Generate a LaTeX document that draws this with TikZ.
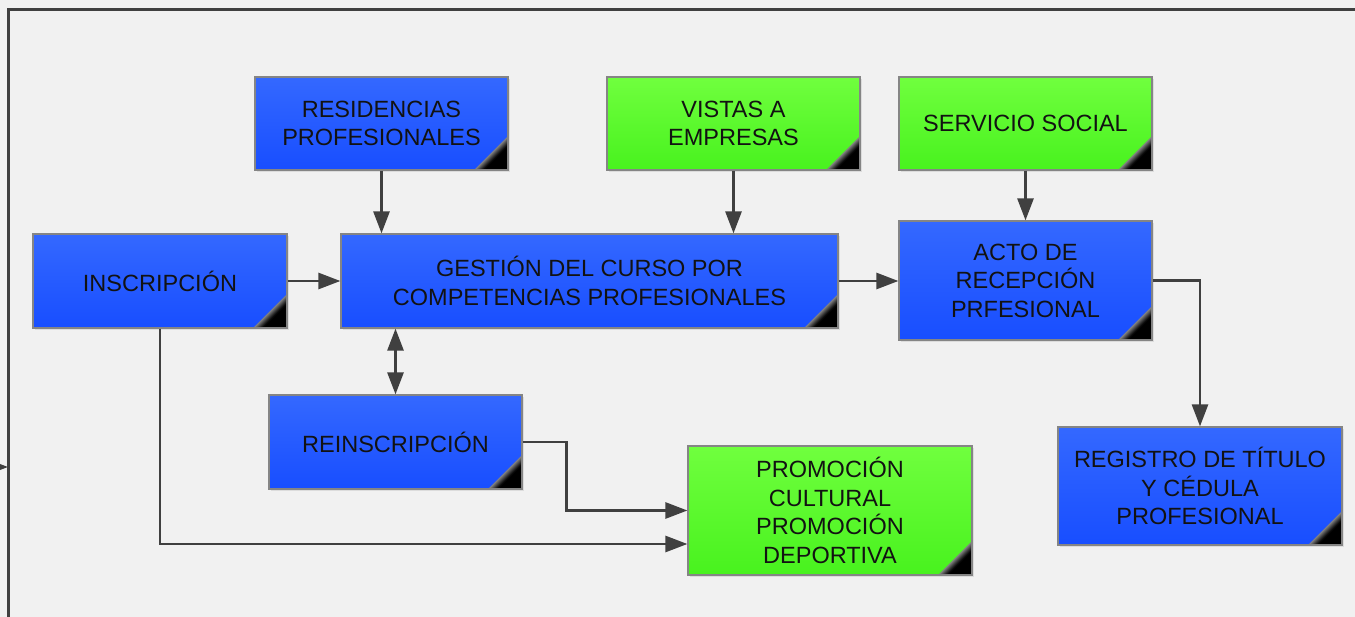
\documentclass[tikz,border=0pt]{standalone}
\usepackage{fontspec}
\setmainfont{Liberation Sans}
\usetikzlibrary{arrows.meta,shadows}
\definecolor{bluetop}{RGB}{52,104,255}
\definecolor{bluebot}{RGB}{24,78,255}
\definecolor{greentop}{RGB}{112,255,62}
\definecolor{greenbot}{RGB}{72,242,30}
\definecolor{linegray}{RGB}{64,64,64}
\definecolor{backgray}{RGB}{241,241,241}

\begin{document}
\begin{tikzpicture}[x=1pt,y=-1pt]
  \tikzstyle{box}=[draw=black!48, line width=1.2pt, align=center, text=black!93,
    font=\fontsize{23.5}{28.5}\selectfont,
    drop shadow={shadow xshift=2pt, shadow yshift=-2pt, opacity=0.18},
    path picture={\foreach \s/\c in {34/50,32/62,30/74,28/86,26/96,24/100}
      \fill[black!\c] (path picture bounding box.south east) -- ++(-\s,0) -- ++(\s,-\s) -- cycle;}]
  \tikzstyle{bluebox}=[box, top color=bluetop, bottom color=bluebot]
  \tikzstyle{greenbox}=[box, top color=greentop, bottom color=greenbot]
  \tikzstyle{flow}=[draw=linegray, line width=2.7pt, -{Triangle[length=22pt,width=16pt]}]
  \useasboundingbox (0,0) rectangle (1355,617);
  \fill[backgray] (0,0) rectangle (1355,617);
  \draw[linegray, line width=2.6pt] (1420,9.5) -- (8.5,9.5) -- (8.5,680);

  \node[bluebox, minimum width=253pt, minimum height=93pt] (res) at (381.5,123.5) {RESIDENCIAS\\PROFESIONALES};
  \node[greenbox, minimum width=253pt, minimum height=93pt] (vis) at (733.5,123.5) {VISTAS A\\EMPRESAS};
  \node[greenbox, minimum width=253pt, minimum height=93pt] (ser) at (1025.5,123.5) {SERVICIO SOCIAL};
  \node[bluebox, minimum width=254pt, minimum height=94pt] (ins) at (160,281) {INSCRIPCIÓN};
  \node[bluebox, minimum width=497pt, minimum height=94pt] (ges) at (589.5,281) {GESTIÓN DEL CURSO POR\\COMPETENCIAS PROFESIONALES};
  \node[bluebox, minimum width=253pt, minimum height=119pt] (act) at (1025.5,280.5) {ACTO DE\\RECEPCIÓN\\PRFESIONAL};
  \node[bluebox, minimum width=253pt, minimum height=94pt] (rei) at (395.5,442) {REINSCRIPCIÓN};
  \node[greenbox, minimum width=284pt, minimum height=129pt] (pro) at (830,510.5) {PROMOCIÓN\\CULTURAL\\PROMOCIÓN\\DEPORTIVA};
  \node[bluebox, minimum width=284pt, minimum height=118pt] (reg) at (1200,486) {REGISTRO DE TÍTULO\\Y CÉDULA\\PROFESIONAL};
  \coordinate (lin) at (-40,467);
  \coordinate (lout) at (8,467);

  \draw[flow] (res.south) -- (res.south |- ges.north);
  \draw[flow] (vis.south) -- (vis.south |- ges.north);
  \draw[flow] (ser.south) -- (act.north);
  \draw[flow] (ins.east) -- (ges.west);
  \draw[flow] (ges.east) -- (act.west |- ges.east);
  \draw[flow, {Triangle[length=22pt,width=16pt]}-{Triangle[length=22pt,width=16pt]}] (rei.north |- ges.south) -- (rei.north);
  \draw[flow] (act.east) -| (reg.north);
  \draw[flow] (rei.east) -- ++(44,0) |- (pro.west);
  \draw[flow] (ins.south) |- ([yshift=-33.5pt]pro.west);
  \draw[flow] (lin) -- (lout);
\end{tikzpicture}
\end{document}
